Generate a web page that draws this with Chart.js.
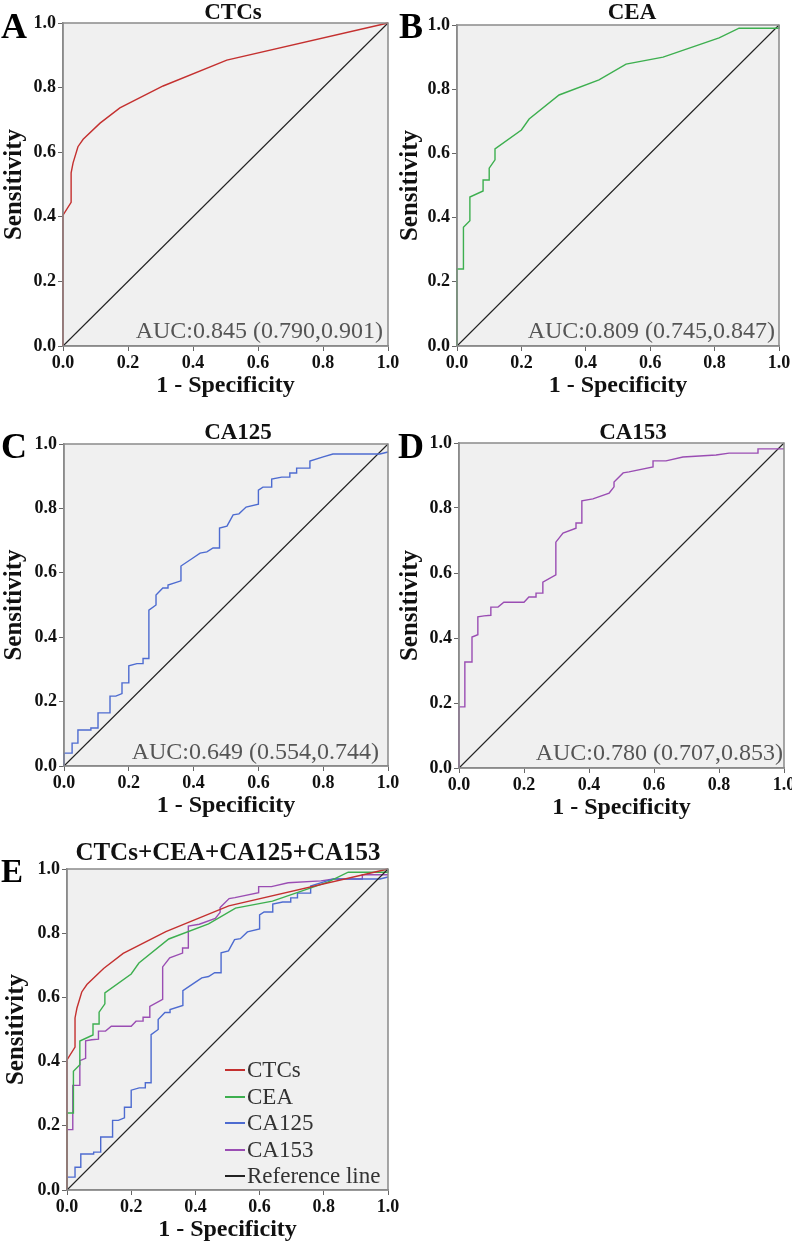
<!DOCTYPE html>
<html>
<head>
<meta charset="utf-8">
<script src="https://cdn.jsdelivr.net/npm/chart.js@4.4.0/dist/chart.umd.min.js"></script>
<style>
  body { margin:0; background:#fff; }
  #page { position:relative; width:792px; height:1243px; overflow:hidden; font-family:"Liberation Serif","Times New Roman",serif; }
  canvas { position:absolute; }
  .txt { position:absolute; white-space:nowrap; line-height:normal; }
  .letter { font-weight:bold; font-size:36px; color:#000; transform:translate(-50%,-50%); }
  .title { font-weight:bold; font-size:23px; color:#111; transform:translate(-50%,-50%); }
  .auc { font-size:24px; color:#555; transform:translate(-100%,-50%); }
  .leg { font-size:23px; color:#333; transform:translateY(-50%); }
  .sw { position:absolute; height:2px; width:20px; }
</style>
</head>
<body>
<div id="page"></div>
<script>
// ROC points (1 - specificity, sensitivity)
var ctcsX = [0, 0, 0.025, 0.025, 0.031, 0.046, 0.062, 0.114, 0.175, 0.308, 0.504, 1.0];
var ctcsY = [0, 0.405, 0.445, 0.536, 0.567, 0.617, 0.64, 0.69, 0.737, 0.805, 0.885, 1.0];

var ceaX = [0, 0, 0.02, 0.02, 0.04, 0.04, 0.081, 0.081, 0.1, 0.1, 0.118, 0.118, 0.2, 0.224, 0.317, 0.441, 0.525, 0.64, 0.814, 0.876, 1.0, 1.0];
var ceaY = [0, 0.24, 0.24, 0.37, 0.39, 0.464, 0.483, 0.517, 0.517, 0.554, 0.58, 0.614, 0.673, 0.707, 0.782, 0.829, 0.878, 0.9, 0.96, 0.99, 0.99, 1.0];

var ca125X = [0, 0, 0.025, 0.025, 0.043, 0.043, 0.083, 0.083, 0.105, 0.105, 0.142, 0.142, 0.16, 0.179, 0.179, 0.2, 0.2, 0.225, 0.244, 0.244, 0.262, 0.262, 0.284, 0.284, 0.305, 0.321, 0.321, 0.361, 0.361, 0.398, 0.42, 0.441, 0.46, 0.48, 0.48, 0.503, 0.522, 0.54, 0.562, 0.6, 0.6, 0.614, 0.641, 0.641, 0.672, 0.697, 0.697, 0.718, 0.718, 0.759, 0.759, 0.8, 0.83, 0.975, 1.0];
var ca125Y = [0, 0.04, 0.04, 0.071, 0.071, 0.112, 0.112, 0.118, 0.118, 0.165, 0.165, 0.217, 0.217, 0.225, 0.258, 0.258, 0.311, 0.318, 0.318, 0.334, 0.334, 0.484, 0.5, 0.531, 0.553, 0.553, 0.562, 0.575, 0.621, 0.646, 0.661, 0.665, 0.677, 0.677, 0.739, 0.745, 0.78, 0.783, 0.804, 0.813, 0.857, 0.866, 0.866, 0.891, 0.897, 0.897, 0.91, 0.91, 0.925, 0.925, 0.947, 0.96, 0.969, 0.969, 0.975];

var ca153X = [0, 0, 0.018, 0.018, 0.04, 0.04, 0.058, 0.058, 0.077, 0.098, 0.098, 0.12, 0.138, 0.2, 0.215, 0.237, 0.237, 0.258, 0.258, 0.298, 0.298, 0.32, 0.36, 0.36, 0.378, 0.378, 0.412, 0.462, 0.477, 0.477, 0.505, 0.523, 0.597, 0.597, 0.637, 0.689, 0.791, 0.831, 0.92, 0.92, 1.0];
var ca153Y = [0, 0.188, 0.188, 0.326, 0.326, 0.403, 0.41, 0.465, 0.468, 0.47, 0.495, 0.495, 0.51, 0.51, 0.526, 0.526, 0.538, 0.538, 0.572, 0.594, 0.695, 0.723, 0.738, 0.754, 0.754, 0.822, 0.828, 0.846, 0.865, 0.88, 0.908, 0.911, 0.926, 0.945, 0.945, 0.957, 0.963, 0.969, 0.969, 0.982, 0.982];

var refX = [0, 1];
var refY = [0, 1];

var tickVals = [0, 0.2, 0.4, 0.6, 0.8, 1.0];
var seriesNames = ['CTCs', 'CEA', 'CA125', 'CA153', 'Reference line'];
var seriesColors = ['#c4302f', '#3daf4f', '#4d6bd0', '#9a4db3', '#222222'];
var aucText = ['AUC:0.845 (0.790,0.901)', 'AUC:0.809 (0.745,0.847)', 'AUC:0.649 (0.554,0.744)', 'AUC:0.780 (0.707,0.853)'];

var FONT = '"Liberation Serif","Times New Roman",serif';
var page = document.getElementById('page');

function pts(xs, ys) {
  var out = [];
  for (var i = 0; i < xs.length; i++) out.push({x: xs[i], y: ys[i]});
  return out;
}

var allSeries = [pts(ctcsX, ctcsY), pts(ceaX, ceaY), pts(ca125X, ca125Y), pts(ca153X, ca153Y), pts(refX, refY)];

function addText(cls, text, x, y) {
  var d = document.createElement('div');
  d.className = 'txt ' + cls;
  d.textContent = text;
  d.style.left = x + 'px';
  d.style.top = y + 'px';
  page.appendChild(d);
  return d;
}

var plotBox = {
  id: 'plotBox',
  beforeDraw: function(chart) {
    var a = chart.chartArea, ctx = chart.ctx;
    ctx.save();
    ctx.fillStyle = '#f0f0f0';
    ctx.fillRect(a.left, a.top, a.right - a.left, a.bottom - a.top);
    ctx.restore();
  },
  afterDatasetsDraw: function(chart) {
    var a = chart.chartArea, ctx = chart.ctx;
    ctx.save();
    ctx.strokeStyle = '#8a8a8a';
    ctx.lineWidth = 1.5;
    ctx.strokeRect(a.left, a.top, a.right - a.left, a.bottom - a.top);
    ctx.restore();
  }
};

var panels = [
  {letter:'A', title:'CTCs', lx:14, ly:26, tx:233, ty:12, box:[63, 23, 388, 346], canvas:[0, 0, 404], series:[0, 4], auc:0, ax:383, ay:330},
  {letter:'B', title:'CEA', lx:411, ly:26, tx:632, ty:12, box:[457, 25, 779, 346], canvas:[396, 0, 396], series:[1, 4], auc:1, ax:775, ay:330},
  {letter:'C', title:'CA125', lx:14, ly:446, tx:238, ty:432, box:[64, 444, 388, 766], canvas:[0, 420, 404], series:[2, 4], auc:2, ax:379, ay:751},
  {letter:'D', title:'CA153', lx:411, ly:446, tx:633, ty:432, box:[459, 443, 784, 768], canvas:[396, 420, 396], series:[3, 4], auc:3, ax:783, ay:752},
  {letter:'E', title:'CTCs+CEA+CA125+CA153', lx:12, ly:871, tx:228, ty:852, box:[67, 869, 388, 1190], canvas:[0, 820, 404], series:[4, 0, 1, 2, 3], auc:-1}
];

var XH = 54;

panels.forEach(function(p, k) {
  var left = p.canvas[0], top = p.canvas[1], w = p.canvas[2];
  var h = p.box[3] - top + XH;
  var c = document.createElement('canvas');
  c.width = w; c.height = h;
  c.style.left = left + 'px'; c.style.top = top + 'px';
  page.appendChild(c);

  var yw = p.box[0] - left;
  var datasets = p.series.map(function(si) {
    return {
      label: seriesNames[si],
      data: allSeries[si],
      showLine: true,
      borderColor: seriesColors[si],
      borderWidth: si == 4 ? 1.1 : 1.4,
      pointRadius: 0,
      tension: 0,
      clip: false
    };
  });

  var tickFont = {family: FONT, size: 18, weight: 'bold'};
  var titleFont = {family: FONT, size: 24, weight: 'bold'};
  var yTitleFont = {family: FONT, size: 25, weight: 'bold'};

  new Chart(c, {
    type: 'scatter',
    data: {datasets: datasets},
    options: {
      responsive: false,
      animation: false,
      devicePixelRatio: 1,
      layout: {padding: {left: 0, top: p.box[1] - top, right: left + w - p.box[2], bottom: 0}},
      plugins: {legend: {display: false}, tooltip: {enabled: false}},
      scales: {
        x: {
          type: 'linear', min: 0, max: 1,
          afterBuildTicks: function(s) { s.ticks = tickVals.map(function(v) { return {value: v}; }); },
          afterFit: function(s) { s.height = XH; s.paddingLeft = 0; s.paddingRight = 0; },
          ticks: {callback: function(v) { return v.toFixed(1); }, font: tickFont, color: '#111', maxRotation: 0, autoSkip: false, padding: 2},
          grid: {drawOnChartArea: false, tickLength: 5, color: '#666'},
          border: {color: '#8a8a8a', width: 1.5},
          title: {display: true, text: '1 - Specificity', font: titleFont, color: '#111', padding: 0}
        },
        y: {
          type: 'linear', min: 0, max: 1,
          afterBuildTicks: function(s) { s.ticks = tickVals.map(function(v) { return {value: v}; }); },
          afterFit: function(s) { s.width = yw; s.paddingTop = 0; s.paddingBottom = 0; },
          ticks: {callback: function(v) { return v.toFixed(1); }, font: tickFont, color: '#111', padding: 2},
          grid: {drawOnChartArea: false, tickLength: 5, color: '#666'},
          border: {color: '#8a8a8a', width: 1.5},
          title: {display: true, text: 'Sensitivity', font: yTitleFont, color: '#111', padding: {top: k == 4 ? 2 : 0, bottom: 0}}
        }
      }
    },
    plugins: [plotBox]
  });

  var L = addText('letter', p.letter, p.lx, p.ly);
  if (k == 4) L.style.fontSize = '33px';
  var T = addText('title', p.title, p.tx, p.ty);
  if (k == 4) T.style.fontSize = '25px';
  if (p.auc >= 0) addText('auc', aucText[p.auc], p.ax, p.ay);
});

// legend for panel E, inside the plot at the lower right
var legRows = [1070, 1097, 1123, 1150, 1176];
seriesNames.forEach(function(name, i) {
  var s = document.createElement('div');
  s.className = 'sw';
  s.style.left = '225px';
  s.style.top = (legRows[i] - 1) + 'px';
  s.style.background = seriesColors[i];
  page.appendChild(s);
  addText('leg', name, 247, legRows[i]);
});
</script>
</body>
</html>
